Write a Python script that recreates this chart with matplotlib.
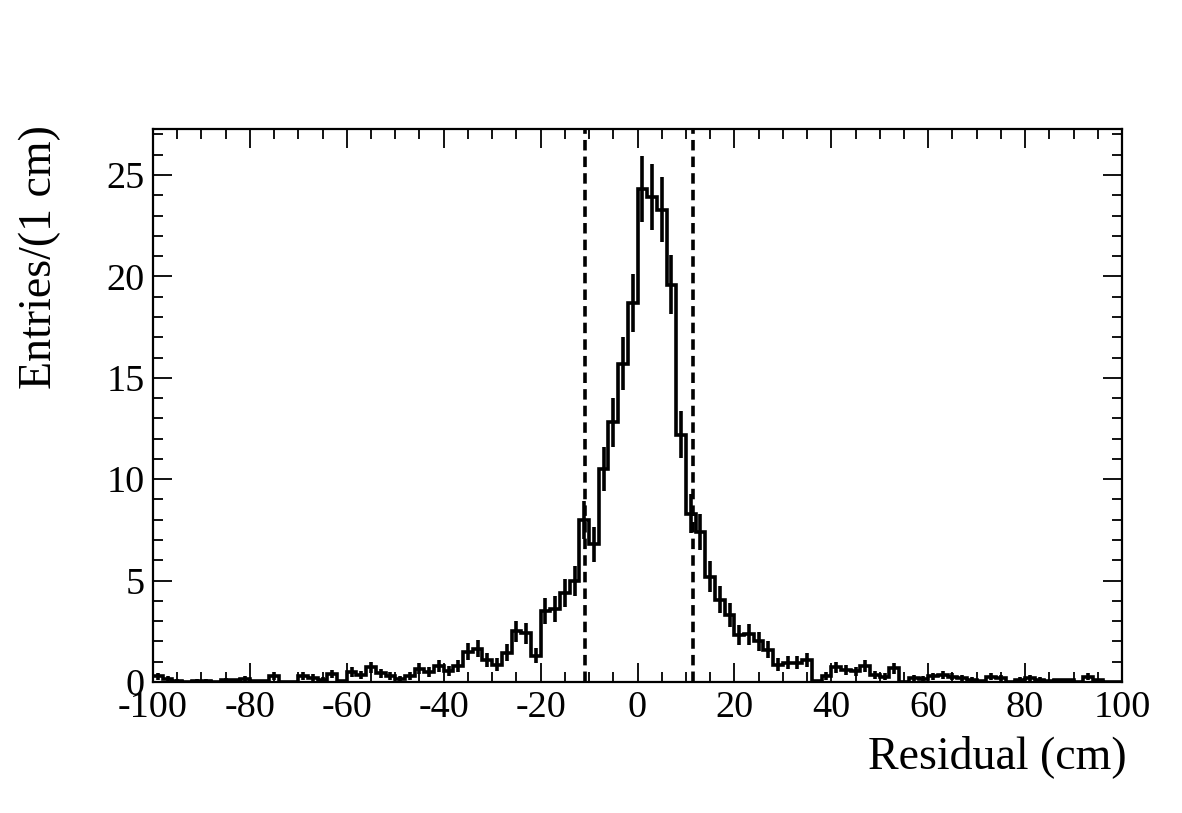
import numpy as np
import matplotlib
matplotlib.use("Agg")
import matplotlib.pyplot as plt
from matplotlib.ticker import MultipleLocator

# ---- data (2 cm bins from -100 to 100) ----
bin_edges = list(range(-100, 101, 2))
entries = [
    0.28, 0.15, 0.07, 0.00, 0.07, 0.07, 0.00, 0.10, 0.08, 0.15,
    0.03, 0.03, 0.30, 0.00, 0.00, 0.30, 0.22, 0.12, 0.38, 0.05,
    0.50, 0.33, 0.72, 0.42, 0.30, 0.15, 0.30, 0.65, 0.50, 0.80,
    0.55, 0.80, 1.50, 1.65, 1.10, 0.85, 1.45, 2.50, 2.40, 1.30,
    3.50, 3.60, 4.40, 5.00, 8.00, 6.80, 10.50, 12.80, 15.70, 18.70,
    24.30, 23.90, 23.30, 19.60, 12.20, 8.30, 7.40, 5.20, 4.05, 3.30,
    2.30, 2.35, 2.00, 1.60, 0.85, 0.95, 0.95, 1.10, 0.05, 0.30,
    0.72, 0.58, 0.52, 0.80, 0.33, 0.25, 0.68, 0.00, 0.20, 0.16,
    0.28, 0.36, 0.25, 0.20, 0.12, 0.03, 0.25, 0.20, 0.00, 0.12,
    0.20, 0.12, 0.03, 0.08, 0.08, 0.00, 0.25, 0.08, 0.00, 0.00,
]
errors = [
    0.18, 0.13, 0.09, 0.00, 0.09, 0.09, 0.00, 0.10, 0.09, 0.13,
    0.06, 0.06, 0.18, 0.00, 0.00, 0.18, 0.16, 0.11, 0.20, 0.07,
    0.23, 0.19, 0.28, 0.21, 0.18, 0.13, 0.18, 0.27, 0.23, 0.30,
    0.25, 0.30, 0.41, 0.43, 0.35, 0.31, 0.40, 0.52, 0.51, 0.38,
    0.62, 0.63, 0.70, 0.74, 0.94, 0.86, 1.07, 1.19, 1.31, 1.43,
    1.63, 1.62, 1.60, 1.47, 1.16, 0.96, 0.90, 0.76, 0.67, 0.60,
    0.50, 0.51, 0.47, 0.42, 0.31, 0.32, 0.32, 0.35, 0.07, 0.18,
    0.28, 0.25, 0.24, 0.30, 0.19, 0.17, 0.27, 0.00, 0.15, 0.13,
    0.18, 0.20, 0.17, 0.15, 0.11, 0.06, 0.17, 0.15, 0.00, 0.11,
    0.15, 0.11, 0.06, 0.09, 0.09, 0.00, 0.17, 0.09, 0.00, 0.00,
]
cut_lines = [-10.8, 11.5]
x_label = "Residual (cm)"
y_label = "Entries/(1 cm)"

# ---- style ----
plt.rcParams['font.family'] = ['Liberation Serif', 'DejaVu Serif']
plt.rcParams['axes.unicode_minus'] = False

fig = plt.figure(figsize=(11.82, 8.13), dpi=100)
ax = fig.add_axes([153/1182, 1 - 682/813, (1122-153)/1182, (682-129)/813])

edges = np.array(bin_edges, dtype=float)
vals = np.array(entries)
errs = np.array(errors)
centers = 0.5 * (edges[:-1] + edges[1:])

lw = 2.6
ax.stairs(vals, edges, color='black', lw=lw, baseline=None)
mask = errs > 0
ax.errorbar(centers[mask], vals[mask], yerr=errs[mask], fmt='none',
            ecolor='black', elinewidth=lw, capsize=0)

for xc in cut_lines:
    ax.axvline(xc, color='black', lw=lw, ls=(0, (2.9, 1.7)))

ax.set_xlim(-100, 100)
ax.set_ylim(0, 27.27)

ax.xaxis.set_major_locator(MultipleLocator(20))
ax.xaxis.set_minor_locator(MultipleLocator(5))
ax.yaxis.set_major_locator(MultipleLocator(5))
ax.yaxis.set_minor_locator(MultipleLocator(1))

ax.tick_params(which='both', direction='in', top=True, right=True,
               width=1.3, labelsize=27.5)
ax.tick_params(which='major', length=14)
ax.tick_params(which='minor', length=7)
ax.tick_params(axis='x', which='major', pad=6)
ax.tick_params(axis='y', which='major', pad=6)

for sp in ax.spines.values():
    sp.set_linewidth(1.6)

fig.text(1127/1182, 1 - 757/813, x_label, ha='right', va='center', fontsize=33)
fig.text(40/1182, 1 - 125/813, y_label, ha='center', va='top', rotation=90, fontsize=33)

fig.savefig("out.png", dpi=100)
